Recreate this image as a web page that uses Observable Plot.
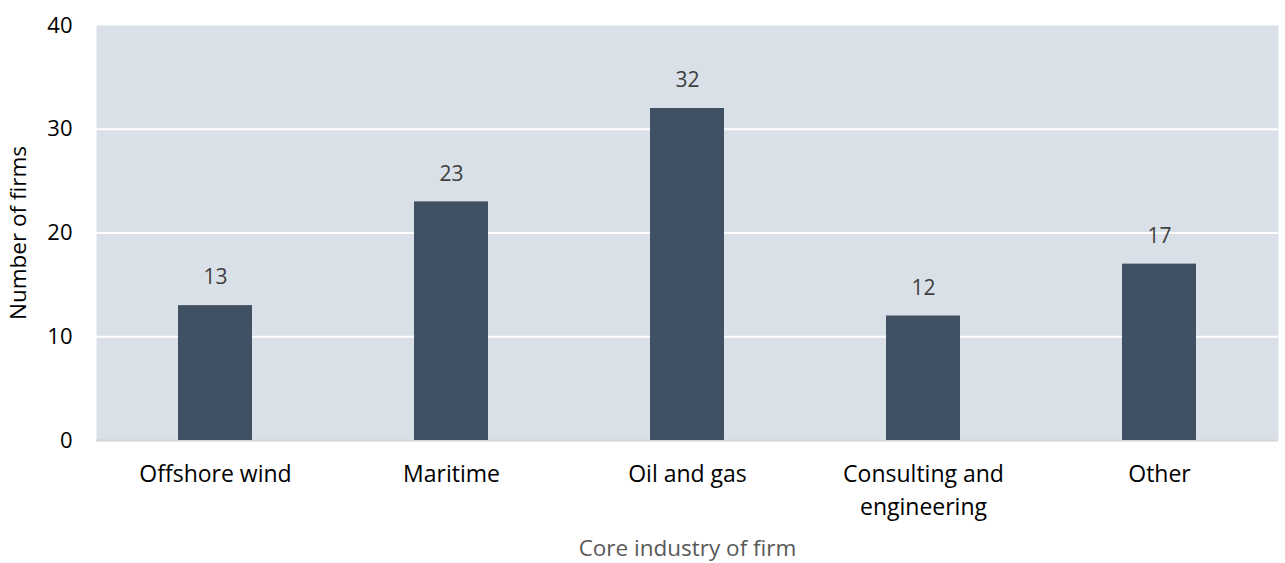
<!DOCTYPE html>
<html><head><meta charset="utf-8">
<script src="https://cdn.jsdelivr.net/npm/d3@7"></script>
<script src="https://cdn.jsdelivr.net/npm/@observablehq/plot@0.6"></script>
<style>
body{margin:0;background:#fff;}
#chart svg{display:block;}
</style>
</head><body><div id="chart"></div>
<script>
const categories = ["Offshore wind", "Maritime", "Oil and gas", "Consulting and engineering", "Other"];
const tickLabels = ["Offshore wind", "Maritime", "Oil and gas", "Consulting and\nengineering", "Other"];
const values = [13, 23, 32, 12, 17];
const yTicks = [0, 10, 20, 30, 40];

const data = categories.map((c, i) => ({category: c, value: values[i]}));
const font = "'Open Sans', sans-serif";

const chart = Plot.plot({
  width: 1285,
  height: 563,
  marginTop: 25,
  marginBottom: 123,
  marginLeft: 96,
  marginRight: 7,
  style: {fontFamily: font, background: "#fff", fontSize: "22px"},
  x: {domain: categories, paddingInner: 0.687, paddingOuter: 0.3435, label: null, tickSize: 0},
  y: {domain: [0, 40], ticks: yTicks, label: null, tickSize: 0},
  marks: [
    Plot.frame({fill: "#dae0e8", stroke: null}),
    Plot.gridY(yTicks.filter(t => t > 0 && t < 40), {stroke: "#ffffff", strokeOpacity: 1, strokeWidth: 2}),
    Plot.ruleY([0], {stroke: "#d4d4d4", strokeWidth: 2}),
    Plot.barY(data, {x: "category", y: "value", fill: "#415164"}),
    Plot.text(data, {x: "category", y: "value", text: d => String(d.value), dy: -28, fontSize: 21, fill: "#404040"}),
    Plot.axisX({tickSize: 0, tickPadding: 19, fontSize: 23, fill: "#000", lineHeight: 1.4,
      tickFormat: d => tickLabels[categories.indexOf(d)], label: null}),
    Plot.axisY({ticks: yTicks, tickSize: 0, tickPadding: 24, fontSize: 22, fill: "#000", label: null}),
    Plot.text(["Core industry of firm"], {frameAnchor: "bottom", dy: 115, fontSize: 22.5, fill: "#595959"}),
    Plot.text(["Number of firms"], {frameAnchor: "left", dx: -78, rotate: -90, textAnchor: "middle", fontSize: 22.5, fill: "#000"})
  ]
});
document.getElementById("chart").appendChild(chart);
</script>
</body></html>
